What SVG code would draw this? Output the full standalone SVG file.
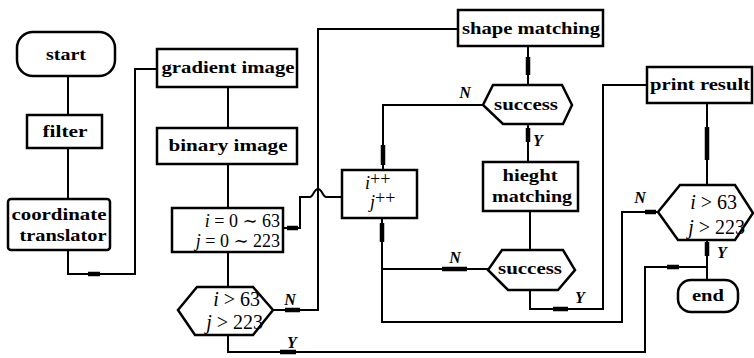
<svg xmlns="http://www.w3.org/2000/svg" width="754" height="358" viewBox="0 0 754 358">
<style>
.box{fill:#fff;stroke:#000;stroke-width:2.5}
.ln{fill:none;stroke:#000;stroke-width:2}
.mk{stroke:#000;stroke-width:4.5;fill:none}
.t{font-family:'Liberation Serif','DejaVu Serif','Times New Roman',serif;font-weight:bold;font-size:16px;fill:#000;text-anchor:middle}
.m{font-family:'Liberation Serif','DejaVu Serif','Times New Roman',serif;font-size:20px;fill:#000}
.lb{font-family:'Liberation Serif','DejaVu Serif','Times New Roman',serif;font-weight:bold;font-style:italic;font-size:16px;fill:#000;text-anchor:middle}
.it{font-style:italic}
</style>
<rect width="754" height="358" fill="#fff"/>
<g id="connectors">
<path class="ln" d="M68 76V115M68 148V199M68 250V274H135V69H157"/>
<path class="ln" d="M228 87V128M228 164V208M228 252V287"/>
<path class="ln" d="M283 228H300V197H310C313 197 314 189 318 189C322 189 323 197 326 197H342"/>
<path class="ln" d="M273 310H318V29H458"/>
<path class="ln" d="M528 46V85M528 124V162M530 211V250"/>
<path class="ln" d="M483 105H383V170"/>
<path class="ln" d="M382 218V322H622V212H658"/>
<path class="ln" d="M382 269H488"/>
<path class="ln" d="M530 290V309H603V85H647"/>
<path class="ln" d="M707 103V185M707 240V280M707 267H645V352H228V335"/>
<path class="mk" d="M88 274H100M528 57V75M528 128V142M383 145V165M382 223V242M442 269H467M553 309H568M707 127V160M645 212H656M707 242V256M667 267H679M280 352H296M285 310H300M287 228H298"/>
</g>
<g id="start"><rect class="box" x="17" y="32" width="98" height="44" rx="16"/><text class="t" x="66" y="60" textLength="40" lengthAdjust="spacingAndGlyphs">start</text></g>
<g id="filter"><rect class="box" x="27" y="115" width="75" height="33"/><text class="t" x="65" y="137" textLength="45" lengthAdjust="spacingAndGlyphs">filter</text></g>
<g id="coordinate"><rect class="box" x="8" y="199" width="102" height="51" rx="3"/><text class="t" x="59" y="220" textLength="95" lengthAdjust="spacingAndGlyphs">coordinate</text><text class="t" x="63" y="241" textLength="87" lengthAdjust="spacingAndGlyphs">translator</text></g>
<g id="gradient"><rect class="box" x="157" y="49" width="140" height="38"/><text class="t" x="228" y="73" textLength="133" lengthAdjust="spacingAndGlyphs">gradient image</text></g>
<g id="binary"><rect class="box" x="157" y="128" width="140" height="36"/><text class="t" x="228" y="151" textLength="119" lengthAdjust="spacingAndGlyphs">binary image</text></g>
<g id="init"><rect class="box" x="172" y="208" width="111" height="44"/><text class="m" x="280" y="227" text-anchor="end" style="font-size:18px"><tspan class="it">i</tspan> = 0 ∼ 63</text><text class="m" x="280" y="247" text-anchor="end" style="font-size:18px"><tspan class="it">j</tspan> = 0 ∼ 223</text></g>
<g id="check1"><polygon class="box" points="197,287 253,287 273,310 253,335 195,335 178,310"/><text class="m" x="260" y="306" text-anchor="end"><tspan class="it">i</tspan> &gt; 63</text><text class="m" x="263" y="329" text-anchor="end"><tspan class="it">j</tspan> &gt; 223</text></g>
<g id="incr"><rect class="box" x="342" y="170" width="75" height="48"/><text class="m" x="365" y="189" style="font-size:18px"><tspan class="it">i</tspan><tspan dy="-4">++</tspan></text><text class="m" x="370" y="208" style="font-size:18px"><tspan class="it">j</tspan><tspan dy="-4">++</tspan></text></g>
<g id="shape"><rect class="box" x="458" y="10" width="145" height="36"/><text class="t" x="531" y="34" textLength="138" lengthAdjust="spacingAndGlyphs">shape matching</text></g>
<g id="success1"><polygon class="box" points="493,85 562,85 572,105 563,124 503,124 483,105"/><text class="t" x="526" y="110" textLength="64" lengthAdjust="spacingAndGlyphs">success</text></g>
<g id="height"><rect class="box" x="483" y="162" width="95" height="49"/><text class="t" x="530" y="181" textLength="55" lengthAdjust="spacingAndGlyphs">hieght</text><text class="t" x="532" y="202" textLength="80" lengthAdjust="spacingAndGlyphs">matching</text></g>
<g id="success2"><polygon class="box" points="502,250 563,250 575,270 558,290 508,290 488,270"/><text class="t" x="530" y="274" textLength="64" lengthAdjust="spacingAndGlyphs">success</text></g>
<g id="print"><rect class="box" x="647" y="67" width="105" height="36"/><text class="t" x="700" y="90" textLength="100" lengthAdjust="spacingAndGlyphs">print result</text></g>
<g id="check2"><polygon class="box" points="680,185 735,185 753,213 735,240 678,240 658,212"/><text class="m" x="737" y="209" text-anchor="end"><tspan class="it">i</tspan> &gt; 63</text><text class="m" x="745" y="234" text-anchor="end"><tspan class="it">j</tspan> &gt; 223</text></g>
<g id="end"><rect class="box" x="678" y="280" width="60" height="32" rx="13"/><text class="t" x="708" y="301" textLength="32" lengthAdjust="spacingAndGlyphs">end</text></g>
<g id="labels">
<text class="lb" x="465" y="98">N</text>
<text class="lb" x="538" y="146">Y</text>
<text class="lb" x="455" y="263">N</text>
<text class="lb" x="580" y="303">Y</text>
<text class="lb" x="290" y="305">N</text>
<text class="lb" x="292" y="348">Y</text>
<text class="lb" x="640" y="203">N</text>
<text class="lb" x="722" y="258">Y</text>
</g>
</svg>
